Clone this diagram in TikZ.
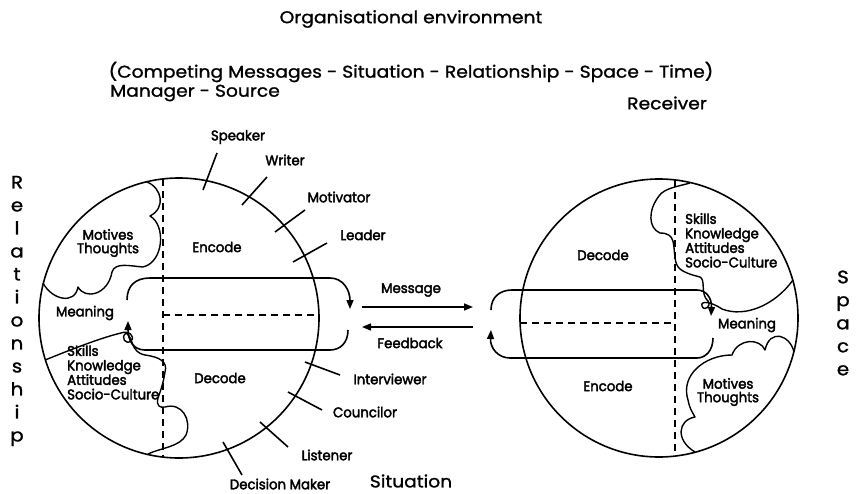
\documentclass[tikz,border=0pt]{standalone}
\usepackage{fontspec}
\setmainfont{Poppins}
\newfontfamily\lblfont[FakeStretch=0.95,FakeBold=2.5]{Poppins}
\newfontfamily\headfont[FakeStretch=1.1,FakeBold=1.2]{Poppins}
\usetikzlibrary{arrows.meta}
\begin{document}
\begin{tikzpicture}[x=1pt,y=-1pt,
  ring/.style={draw,circle,line width=1.6pt,inner sep=0pt,minimum size=#1},
  guide/.style={line width=1.6pt,dash pattern=on 7pt off 5pt},
  thick line/.style={line width=1.6pt},
  cloud line/.style={line width=1.4pt,line join=round},
  flow/.style={line width=1.6pt,-{Triangle[length=9pt,width=7pt]}},
  lbl/.style={font={\lblfont\fontsize{14}{14}\selectfont},inner sep=0pt},
  pair/.style={font={\lblfont\fontsize{14}{13.5}\selectfont},inner sep=0pt,align=center},
  block/.style={font={\lblfont\fontsize{14}{14.5}\selectfont},inner sep=0pt,align=left},
  head/.style={font={\headfont\fontsize{17}{19}\selectfont},inner sep=0pt},
  side/.style={font={\headfont\fontsize{18}{23}\selectfont},inner sep=0pt,align=center}
]
\useasboundingbox (0,0) rectangle (857,493);

% headings
\node[head] (org) at (411,19) {Organisational environment};
\node[head] (ctx) at (411,72) {(Competing Messages - Situation - Relationship - Space - Time)};
\node[head] (mgr) at (195,93) {Manager - Source};
\node[head] (rcv) at (667,103) {Receiver};
\node[head] (sit) at (411,481) {Situation};
\node[side] (rel) at (17,311) {R\\e\\l\\a\\t\\i\\o\\n\\s\\h\\i\\p};
\node[side] (spc) at (843,323) {S\\p\\a\\c\\e};

% the two people
\node[ring=280pt] (src) at (179,318) {};
\node[ring=278pt] (dst) at (659,318) {};

% source: dashed split lines
\draw[guide] (163,179) -- (163,457);
\draw[guide] (163,315) -- (318,315);
% receiver: dashed split lines
\draw[guide] (675,180) -- (675,457);
\draw[guide] (520,323) -- (675,323);

% source: motives / thoughts cloud
\draw[cloud line] (147,182) .. controls (162,188) and (166,208) .. (150,216)
  .. controls (166,225) and (164,262) .. (143,267)
  .. controls (130,266) and (115,262) .. (112,272)
  .. controls (108,295) and (85,300) .. (78,287)
  .. controls (75,305) and (52,300) .. (43,283);
% source: skills cloud
\draw[cloud line] (45,360) .. controls (70,350) and (100,338) .. (121,333)
  .. controls (128,330) and (136,336) .. (131,341)
  .. controls (126,345) and (120,338) .. (126,333)
  .. controls (134,338) and (130,352) .. (145,355)
  .. controls (160,357) and (168,362) .. (165,372)
  .. controls (163,385) and (160,392) .. (158,398)
  .. controls (156,406) and (160,408) .. (165,407)
  .. controls (182,402) and (192,420) .. (186,435)
  .. controls (180,447) and (160,448) .. (148,454);

% receiver: skills cloud
\draw[cloud line] (690,183) .. controls (680,186) and (664,188) .. (659,196)
  .. controls (648,210) and (648,228) .. (660,233)
  .. controls (676,233) and (673,245) .. (675,257)
  .. controls (676,268) and (680,272) .. (700,277)
  .. controls (706,280) and (700,294) .. (708,301)
  .. controls (712,306) and (704,312) .. (702,306)
  .. controls (700,300) and (712,302) .. (722,309)
  .. controls (745,318) and (775,305) .. (793,280);
% receiver: motives / thoughts cloud
\draw[cloud line] (794,352) .. controls (790,335) and (770,328) .. (765,350)
  .. controls (760,338) and (738,338) .. (732,355)
  .. controls (705,355) and (680,375) .. (688,400)
  .. controls (690,410) and (693,413) .. (695,417)
  .. controls (678,420) and (675,440) .. (695,452);

% source: message loop
\draw[flow] (127,300) .. controls (127,286) and (135,278) .. (150,278) -- (330,278)
  .. controls (343,278) and (350,290) .. (350,309);
\draw[flow] (348,330) .. controls (348,343) and (340,350) .. (330,350) -- (145,350)
  .. controls (133,350) and (128,340) .. (128,321);
% receiver: message loop
\draw[flow] (491,310) .. controls (491,297) and (500,290) .. (512,290) -- (697,290)
  .. controls (706,290) and (712,298) .. (711,316);
\draw[flow] (713,338) .. controls (713,350) and (706,358) .. (697,358) -- (510,358)
  .. controls (498,358) and (490,348) .. (491,330);

% message and feedback between the two
\coordinate (mL) at (362,307); \coordinate (mR) at (473,307);
\coordinate (fL) at (362,327); \coordinate (fR) at (473,327);
\draw[flow] (mL) -- (mR);
\draw[flow] (fR) -- (fL);
\node[lbl] (msg) at (411,290) {Message};
\node[lbl] (fbk) at (410,343) {Feedback};

% roles of the source
\node[lbl] (spk) at (238,137) {Speaker};
\node[lbl] (wri) at (285,160) {Writer};
\node[lbl] (mot) at (339,197) {Motivator};
\node[lbl] (lea) at (363,235) {Leader};
\node[lbl] (int) at (390,379) {Interviewer};
\node[lbl] (cou) at (365,412) {Councilor};
\node[lbl] (lis) at (327,455) {Listener};
\node[lbl] (dec) at (280,484) {Decision Maker};
\draw[thick line] (217,153) -- (203,190);
\draw[thick line] (267,177) -- (242,205);
\draw[thick line] (305,210) -- (275,232);
\draw[thick line] (327,243) -- (293,262);
\draw[thick line] (305,362) -- (340,375);
\draw[thick line] (288,392) -- (322,410);
\draw[thick line] (260,422) -- (288,447);
\draw[thick line] (223,442) -- (242,475);

% source inner labels
\node[lbl] (encS) at (217,247) {Encode};
\node[lbl] (decS) at (220,378) {Decode};
\node[lbl] (meaS) at (85,313) {Meaning};
\node[pair] (motS) at (108,243) {Motives\\Thoughts};
\node[block,anchor=north west] (sklS) at (67,345) {Skills\\Knowledge\\Attitudes\\Socio-Culture};

% receiver inner labels
\node[lbl] (decR) at (603,255) {Decode};
\node[lbl] (encR) at (608,386) {Encode};
\node[lbl] (meaR) at (747,325) {Meaning};
\node[pair] (motR) at (728,392) {Motives\\Thoughts};
\node[block,anchor=north west] (sklR) at (685,213) {Skills\\Knowledge\\Attitudes\\Socio-Culture};
\end{tikzpicture}
\end{document}
